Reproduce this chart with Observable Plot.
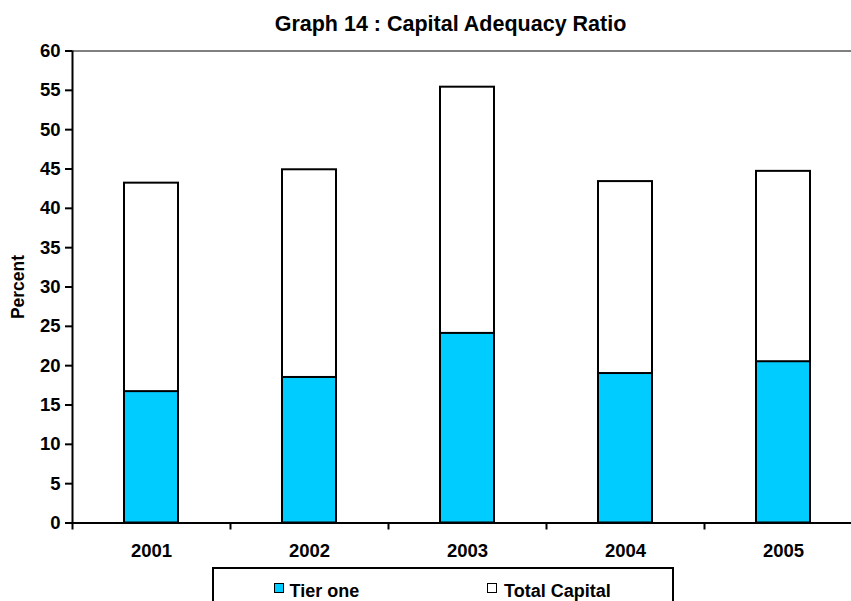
<!DOCTYPE html>
<html>
<head>
<meta charset="utf-8">
<script src="https://cdn.jsdelivr.net/npm/d3@7"></script>
<script src="https://cdn.jsdelivr.net/npm/@observablehq/plot@0.6"></script>
<style>
  html, body { margin: 0; padding: 0; background: #fff; }
  #chart { position: relative; width: 851px; height: 601px; overflow: hidden; background: #fff;
           font-family: "Liberation Sans", Arial, sans-serif; font-weight: bold; color: #000; }
  #title { position: absolute; left: 0; top: 14px; width: 901px; text-align: center;
           font-size: 21.5px; line-height: 21px; white-space: nowrap; }
  #plot { position: absolute; left: 0; top: 40px; width: 863px; }
  #plot svg { max-width: none !important; }
  #legend { position: absolute; left: 212px; top: 567px; width: 462px; height: 60px;
            border: 2px solid #000; box-sizing: border-box; background: #fff; }
  .sw { position: absolute; width: 10px; height: 10px; border: 1.5px solid #000; box-sizing: border-box; }
  .lt { position: absolute; font-size: 18px; line-height: 18px; white-space: nowrap; }
</style>
</head>
<body>
<div id="chart">
  <div id="title">Graph 14 : Capital Adequacy Ratio</div>
  <div id="plot"></div>
  <div id="legend"></div>
</div>
<script>
// Capital adequacy ratios (percent) by year
const years = ["2001", "2002", "2003", "2004", "2005"];
const tierOne = [16.7, 18.5, 24.1, 19.0, 20.5];
const totalCapital = [43.2, 44.9, 55.4, 43.4, 44.7];
const yTicks = [0, 5, 10, 15, 20, 25, 30, 35, 40, 45, 50, 55, 60];
const seriesNames = ["Tier one", "Total Capital"];
const seriesColors = ["#00CCFF", "#FFFFFF"];

const tierRows = years.map((year, i) => ({year, value: tierOne[i]}));
const totalRows = years.map((year, i) => ({year, value: totalCapital[i]}));

const width = 863, marginLeft = 72, marginRight = 1;
const step = (width - marginLeft - marginRight) / years.length;

const chart = Plot.plot({
  width,
  height: 525,
  marginLeft,
  marginRight,
  marginTop: 10.5,
  marginBottom: 42.5,
  style: {fontFamily: "'Liberation Sans', Arial, sans-serif", fontWeight: "bold", color: "#000", background: "transparent", overflow: "visible", maxWidth: "none"},
  x: {domain: years, paddingInner: 0.661, paddingOuter: 0.3305, label: null},
  y: {domain: [0, 60], label: null},
  marks: [
    Plot.ruleY([60], {stroke: "#808080", strokeWidth: 2}),
    // Total capital drawn first, tier one overlaid from the baseline
    Plot.barY(totalRows, {x: "year", y: "value", fill: seriesColors[1], stroke: "#000", strokeWidth: 2}),
    Plot.barY(tierRows, {x: "year", y: "value", fill: seriesColors[0], stroke: "#000", strokeWidth: 2}),
    Plot.ruleY([0], {stroke: "#000", strokeWidth: 2}),
    Plot.ruleX([years[0]], {dx: -step / 2, y1: 0, y2: 60, stroke: "#000", strokeWidth: 2}),
    Plot.axisY({ticks: yTicks, tickSize: 7, tickPadding: 5, tickFormat: d => String(d), fontSize: 18.5, strokeWidth: 2, label: null}),
    // category separators sit on band boundaries
    Plot.axisX({tickSize: 7, tickFormat: () => "", dx: -step / 2, strokeWidth: 2, label: null}),
    Plot.axisX({tickSize: 0, tickPadding: 21, fontSize: 18.5, label: null}),
    Plot.text(["Percent"], {frameAnchor: "left", textAnchor: "middle", rotate: -90, dx: -54, fontSize: 17.5, fontWeight: "bold", fill: "#000"})
  ]
});
document.getElementById("plot").appendChild(chart);

// Legend
const chartEl = document.getElementById("chart");
const legendItems = [
  {name: seriesNames[0], color: seriesColors[0], swLeft: 274, textLeft: 289.5},
  {name: seriesNames[1], color: seriesColors[1], swLeft: 487, textLeft: 504}
];
for (const item of legendItems) {
  const sw = document.createElement("div");
  sw.className = "sw";
  sw.style.left = item.swLeft + "px";
  sw.style.top = "583px";
  sw.style.background = item.color;
  chartEl.appendChild(sw);
  const t = document.createElement("div");
  t.className = "lt";
  t.style.left = item.textLeft + "px";
  t.style.top = "582px";
  t.textContent = item.name;
  chartEl.appendChild(t);
}
</script>
</body>
</html>
